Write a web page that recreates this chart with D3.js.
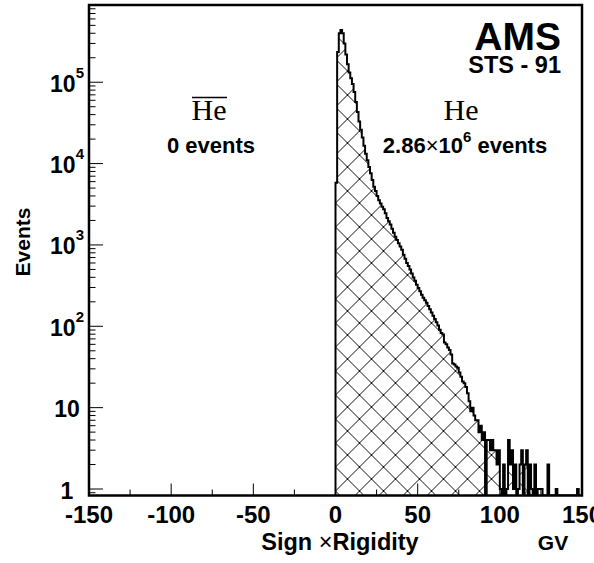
<!DOCTYPE html>
<html>
<head>
<meta charset="utf-8">
<script src="https://cdn.jsdelivr.net/npm/d3@7"></script>
<style>
  html, body { margin: 0; padding: 0; background: #fff; }
  svg { display: block; }
  text { font-family: "Liberation Sans", Arial, Helvetica, sans-serif; font-weight: bold; fill: #000; }
</style>
</head>
<body>
<svg id="chart" width="594" height="563"></svg>
<script>
// ---------------- data ----------------
const binWidth = 1;              // GV per bin
const binStart = 0;              // first bin lower edge (GV)
// Events per 1-GV bin, from 0 GV to 150 GV (He, positive rigidity)
const heCounts = [
  5800, 235000, 400000, 440000, 400000, 300000, 220000, 166000, 132000, 112000,
  95000, 76000, 57000, 43000, 33000, 26000, 21000, 16600, 13200, 11000,
  9100, 7600, 6300, 5200, 4600, 4000, 3550, 3240, 2950, 2750,
  2450, 2140, 1950, 1780, 1580, 1410, 1260, 1150, 1050, 955,
  870, 760, 676, 600, 550, 500, 447, 398, 363, 324,
  295, 269, 245, 224, 209, 195, 178, 162, 148, 135,
  123, 112, 102, 91, 83, 79, 63, 60, 55, 51,
  45, 35, 34, 32, 31, 27, 24, 21, 20, 18,
  15, 12, 9, 10, 8, 7, 7, 5, 6, 4,
  5, 0, 4, 4, 3, 4, 3, 3, 2, 3,
  1, 0, 2, 0, 1, 4, 2, 3, 1, 2,
  0, 1, 2, 3, 0, 2, 3, 0, 2, 1,
  0, 2, 0, 1, 1, 1, 0, 0, 0, 2,
  0, 0, 0, 0, 1, 0, 0, 0, 0, 0,
  0, 0, 0, 0, 0, 0, 0, 1, 0, 0
];
const xTicksMajor = [-150, -100, -50, 0, 50, 100, 150];
const xTicksMinor = [-125, -75, -25, 25, 75, 125];
const yDomain = [0.832, 8.9e5];
const xDomain = [-150, 150];

// ---------------- layout ----------------
const svg = d3.select("#chart");
const L = 89, R = 582, T = 5, B = 495.5;
const x = d3.scaleLinear().domain(xDomain).range([L, R]);
const y = d3.scaleLog().domain(yDomain).range([B, T]);

// hatch pattern (cross-hatch)
const defs = svg.append("defs");
const hs = 24;
const pat = defs.append("pattern")
  .attr("id", "hatch").attr("patternUnits", "userSpaceOnUse")
  .attr("width", hs).attr("height", hs)
  .attr("x", x(0) - hs / 2).attr("y", 395 - hs / 2);
pat.append("path")
  .attr("d", `M0,0L${hs},${hs}M0,${hs}L${hs},0M-1,${hs-1}L1,${hs+1}M${hs-1},-1L${hs+1},1M-1,1L1,-1M${hs-1},${hs+1}L${hs+1},${hs-1}`)
  .attr("stroke", "#111").attr("stroke-width", 1).attr("fill", "none");

defs.append("clipPath").attr("id", "clip")
  .append("rect").attr("x", L).attr("y", T).attr("width", R - L).attr("height", B - T);

// histogram path
const pts = [[x(binStart), B]];
heCounts.forEach((v, i) => {
  const lo = binStart + i * binWidth, hi = lo + binWidth;
  const yy = v > 0 ? y(v) : B;
  pts.push([x(lo), yy]);
  pts.push([x(hi), yy]);
});
pts.push([x(binStart + heCounts.length * binWidth), B]);
const line = d3.line();

const g = svg.append("g").attr("clip-path", "url(#clip)");
g.append("path").attr("d", line(pts) + "Z")
  .attr("fill", "url(#hatch)").attr("stroke", "none");
g.append("path").attr("d", line(pts))
  .attr("fill", "none").attr("stroke", "#000").attr("stroke-width", 2)
  .attr("stroke-linejoin", "miter");

// frame
svg.append("rect").attr("x", L).attr("y", T).attr("width", R - L).attr("height", B - T)
  .attr("fill", "none").attr("stroke", "#000").attr("stroke-width", 2.5);

// x ticks
svg.selectAll(".xt").data(xTicksMajor).enter().append("line")
  .attr("x1", d => x(d)).attr("x2", d => x(d)).attr("y1", B).attr("y2", B - 12)
  .attr("stroke", "#000").attr("stroke-width", 1);
svg.selectAll(".xtm").data(xTicksMinor).enter().append("line")
  .attr("x1", d => x(d)).attr("x2", d => x(d)).attr("y1", B).attr("y2", B - 6)
  .attr("stroke", "#000").attr("stroke-width", 1);
svg.selectAll(".xl").data(xTicksMajor).enter().append("text")
  .attr("x", d => x(d)).attr("y", 523).attr("text-anchor", "middle")
  .attr("font-size", 24).text(d => d);

// y ticks
const yt = y.ticks();
const isMajor = d => Math.abs(Math.log10(d) - Math.round(Math.log10(d))) < 1e-6;
svg.selectAll(".yt").data(yt).enter().append("line")
  .attr("x1", L).attr("x2", d => L + (isMajor(d) ? 14 : 6.5))
  .attr("y1", d => y(d)).attr("y2", d => y(d))
  .attr("stroke", "#000").attr("stroke-width", 1);
const yMaj = yt.filter(isMajor);
yMaj.forEach(d => {
  const n = Math.round(Math.log10(d));
  const t = svg.append("text").attr("x", 67).attr("y", y(d) + 9.5)
    .attr("text-anchor", "middle").attr("font-size", 23);
  if (n === 0) t.text("1");
  else if (n === 1) t.text("10");
  else {
    t.append("tspan").text("10");
    t.append("tspan").attr("dy", -14).attr("font-size", 15).text(n);
  }
});

// axis titles
const xt = svg.append("text").attr("x", 340).attr("y", 550).attr("text-anchor", "middle").attr("font-size", 23.5);
xt.append("tspan").text("Sign ");
xt.append("tspan").attr("font-weight", "normal").text("×");
xt.append("tspan").text("Rigidity");
svg.append("text").attr("x", 553).attr("y", 550).attr("text-anchor", "middle").attr("font-size", 21).text("GV");
svg.append("text").attr("transform", "translate(30,242) rotate(-90)")
  .attr("text-anchor", "middle").attr("font-size", 21).text("Events");

// annotations
svg.append("text").attr("x", 561).attr("y", 50).attr("text-anchor", "end").attr("font-size", 39).text("AMS");
svg.append("text").attr("x", 561).attr("y", 73).attr("text-anchor", "end").attr("font-size", 23.5).text("STS - 91");

svg.append("text").attr("x", 461).attr("y", 120).attr("text-anchor", "middle")
  .style("font-family", "'Liberation Serif', 'Times New Roman', serif").style("font-weight", "normal")
  .attr("font-size", 30).text("He");
const ev = svg.append("text").attr("x", 465).attr("y", 153).attr("text-anchor", "middle").attr("font-size", 22);
ev.append("tspan").text("2.86");
ev.append("tspan").attr("font-weight", "normal").text("×");
ev.append("tspan").text("10");
ev.append("tspan").attr("dy", -11).attr("font-size", 15).text("6");
ev.append("tspan").attr("dy", 11).text(" events");

svg.append("text").attr("x", 209).attr("y", 120).attr("text-anchor", "middle")
  .style("font-family", "'Liberation Serif', 'Times New Roman', serif").style("font-weight", "normal")
  .attr("font-size", 30).text("He");
svg.append("line").attr("x1", 192).attr("x2", 227).attr("y1", 97.5).attr("y2", 97.5)
  .attr("stroke", "#000").attr("stroke-width", 1.5);
svg.append("text").attr("x", 211).attr("y", 153).attr("text-anchor", "middle").attr("font-size", 22).text("0 events");
</script>
</body>
</html>
